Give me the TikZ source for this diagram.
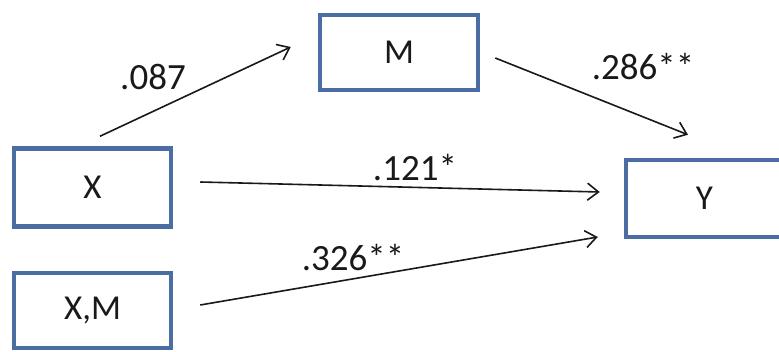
\documentclass[tikz,border=0pt]{standalone}
\usepackage{fontspec}
\setmainfont{Carlito}
\usetikzlibrary{arrows.meta}
\definecolor{boxblue}{RGB}{74,110,163}
\definecolor{ink}{RGB}{25,25,25}
\tikzset{
  varbox/.style={draw=boxblue, line width=4.5pt, fill=white, inner sep=0pt,
    minimum width=157pt, minimum height=76pt, font=\fontsize{35}{40}\selectfont, text=ink},
  arr/.style={draw=ink, line width=1.6pt, -{Straight Barb[length=11pt,width=17pt,line width=1.6pt]}},
  coef/.style={font=\fontsize{37}{42}\selectfont, text=ink, inner sep=0pt}
}
\begin{document}
\begin{tikzpicture}[x=1pt,y=-1pt]
\useasboundingbox (0,0) rectangle (779,352);
\fill[white] (0,0) rectangle (779,352);
\node[varbox, minimum height=78pt] (X) at (92.5,187.5) {X};
\node[varbox, minimum height=75pt] (XM) at (92.5,310.5) {X,M};
\node[varbox, minimum width=158pt, minimum height=75pt] (M) at (399,52.5) {M};
\node[varbox, minimum height=77pt] (Y) at (704.5,198.5) {Y};
\coordinate (a1) at ([shift={(7.5,-10)}]X.north);
\coordinate (a2) at ([shift={(-27,-5.5)}]M.west);
\coordinate (b1) at ([shift={(15,5.5)}]M.east);
\coordinate (b2) at ([shift={(-16.5,-23)}]Y.north);
\coordinate (c1) at ([shift={(27,-5.5)}]X.east);
\coordinate (c2) at ([shift={(-24,-6.5)}]Y.west);
\coordinate (d1) at ([shift={(27,-5.5)}]XM.east);
\coordinate (d2) at ([shift={(-26,38.5)}]Y.west);
\draw[arr] (a1) -- (a2);
\draw[arr] (b1) -- (b2);
\draw[arr] (c1) -- (c2);
\draw[arr] (d1) -- (d2);
\node[coef] (l1) at (153,77) {.087};
\node[coef] (l2) at (643,67) {.286**};
\node[coef] (l3) at (415,168) {.121*};
\node[coef] (l4) at (353,258) {.326**};
\end{tikzpicture}
\end{document}
